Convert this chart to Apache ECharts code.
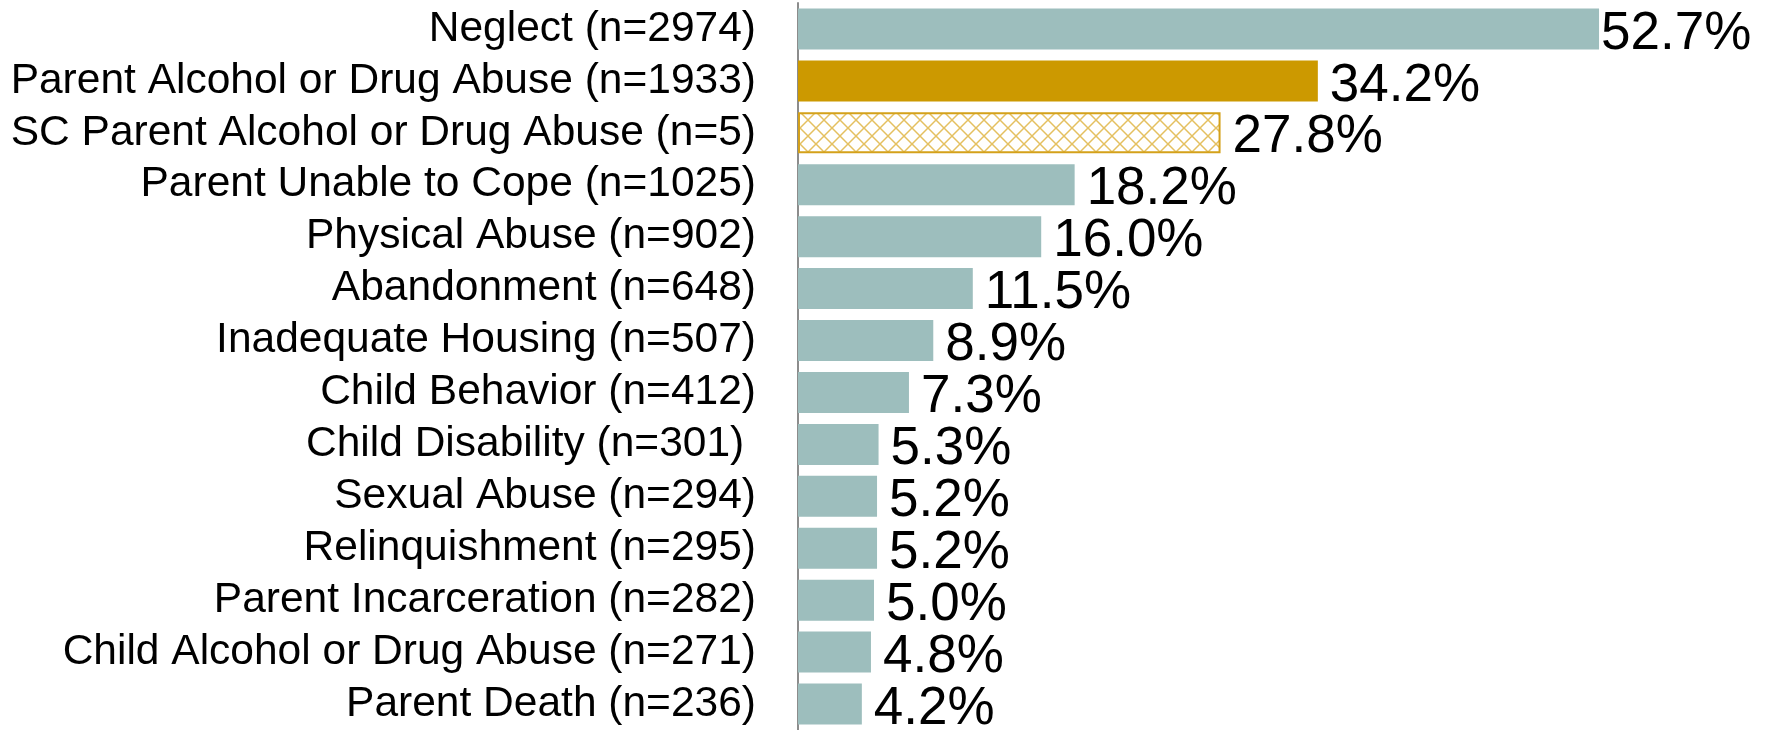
<!DOCTYPE html>
<html>
<head>
<meta charset="utf-8">
<script src="https://cdn.jsdelivr.net/npm/echarts@6/dist/echarts.min.js"></script>
<style>
  html, body { margin: 0; padding: 0; background: #fff; }
  #chart { width: 1773px; height: 730px; }
</style>
</head>
<body>
<div id="chart"></div>
<script>
  // categories, top to bottom
  var categories = [
    'Neglect (n=2974)',
    'Parent Alcohol or Drug Abuse (n=1933)',
    'SC Parent Alcohol or Drug Abuse (n=5)',
    'Parent Unable to Cope (n=1025)',
    'Physical Abuse (n=902)',
    'Abandonment (n=648)',
    'Inadequate Housing (n=507)',
    'Child Behavior (n=412)',
    'Child Disability (n=301) ',
    'Sexual Abuse (n=294)',
    'Relinquishment (n=295)',
    'Parent Incarceration (n=282)',
    'Child Alcohol or Drug Abuse (n=271)',
    'Parent Death (n=236)'
  ];
  // percent of removals
  var percents = [52.7, 34.2, 27.8, 18.2, 16.0, 11.5, 8.9, 7.3, 5.3, 5.2, 5.2, 5.0, 4.8, 4.2];

  var teal = '#9DBEBD';
  var gold = '#CC9900';

  // crosshatch pattern for the SC bar
  var hatch = document.createElement('canvas');
  hatch.width = 16;
  hatch.height = 16;
  var ctx = hatch.getContext('2d');
  ctx.fillStyle = '#fff';
  ctx.fillRect(0, 0, 16, 16);
  ctx.strokeStyle = '#E4C060';
  ctx.lineWidth = 1.5;
  ctx.beginPath();
  ctx.moveTo(0, 0); ctx.lineTo(16, 16);
  ctx.moveTo(16, 0); ctx.lineTo(0, 16);
  ctx.stroke();

  var barData = [];
  for (var i = 0; i < percents.length; i++) {
    var item = { value: percents[i] };
    if (i == 1) {
      item.itemStyle = { color: gold };
    } else if (i == 2) {
      item.itemStyle = {
        color: { image: hatch, repeat: 'repeat' },
        borderColor: '#D4A11A',
        borderWidth: 2
      };
    }
    if (i == 0) {
      item.label = { distance: 2 };
    }
    barData.push(item);
  }

  var chart = echarts.init(document.getElementById('chart'));
  chart.setOption({
    animation: false,
    textStyle: { fontFamily: 'Liberation Sans, Arial, sans-serif' },
    grid: { left: 798, right: 63, top: 3, height: 730 },
    xAxis: {
      type: 'value',
      min: 0,
      max: 60,
      show: false
    },
    yAxis: {
      type: 'category',
      inverse: true,
      data: categories,
      axisLine: { show: true, lineStyle: { color: '#8C8C8C', width: 2 } },
      axisTick: { show: false },
      axisLabel: {
        interval: 0,
        color: '#000',
        fontSize: 42.5,
        margin: 42,
        padding: [4, 0, 0, 0],
        fontFamily: 'Liberation Sans, Arial, sans-serif'
      }
    },
    series: [{
      type: 'bar',
      data: barData,
      barCategoryGap: '21%',
      itemStyle: { color: teal },
      label: {
        show: true,
        position: 'right',
        distance: 12,
        offset: [0, 5],
        color: '#000',
        fontSize: 53,
        fontFamily: 'Liberation Sans, Arial, sans-serif',
        formatter: function (p) { return p.value.toFixed(1) + '%'; }
      }
    }]
  });
</script>
</body>
</html>
